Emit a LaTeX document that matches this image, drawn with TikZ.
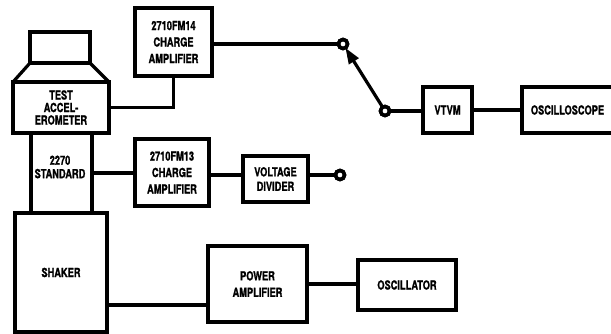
\documentclass[tikz,border=0pt]{standalone}
\usepackage{fontspec}
\setmainfont{TeX Gyre Heros}[FakeStretch=0.74,FakeBold=1.2]
\usetikzlibrary{arrows.meta}
\begin{document}
\begin{tikzpicture}[x=1pt,y=-1pt,
  txt/.style={font=\bfseries\fontsize{12.5}{16.5}\selectfont},
  box/.style={draw, line width=3.2pt, outer sep=0pt, inner sep=0pt, align=center, txt},
  wire/.style={line width=3.2pt},
  term/.style={circle, draw, fill=white, line width=3.6pt, minimum size=9pt, inner sep=0pt, outer sep=0pt},
  lbl/.style={align=center, inner sep=0pt, txt}]
\useasboundingbox (0,0) rectangle (611,334);
% accelerometer stack
\node[box, minimum width=60pt, minimum height=31pt] (cap) at (60,47.5) {};
\node[box, minimum width=96pt, minimum height=51pt, font=\bfseries\fontsize{12.5}{12.5}\selectfont] (accel) at (61,107.5) {TEST\\ACCEL-\\EROMETER};
\draw[wire, line join=round] (cap.south west) -- (accel.north west);
\draw[wire, line join=round] (cap.south east) -- (accel.north east);
\node[box, minimum width=61pt, minimum height=80pt] (std) at (61.5,173) {};
\node[lbl, font=\bfseries\fontsize{12.5}{13.5}\selectfont] (stdtext) at (60,167) {2270\\STANDARD};
\node[box, minimum width=92pt, minimum height=119pt] (shaker) at (61,272.5) {SHAKER};
% upper chain
\node[box, minimum width=77pt, minimum height=68pt] (ca14) at (173.5,42) {2710FM14\\CHARGE\\AMPLIFIER};
\node[term] (s1) at (343,44) {};
\node[term] (s2) at (385,111) {};
\node[box, minimum width=49pt, minimum height=46pt] (vtvm) at (447.5,110) {VTVM};
\node[box, minimum width=91pt, minimum height=46pt] (scope) at (567.5,110) {OSCILLOSCOPE};
% middle chain
\node[box, minimum width=74pt, minimum height=67pt] (ca13) at (172,172.5) {2710FM13\\CHARGE\\AMPLIFIER};
\node[box, minimum width=65pt, minimum height=46pt, font=\bfseries\fontsize{12.5}{14.5}\selectfont] (vdiv) at (275.5,179) {VOLTAGE\\DIVIDER};
\node[term] (vout) at (340,175) {};
% lower chain
\node[box, minimum width=99pt, minimum height=76pt] (pa) at (257.5,284) {POWER\\AMPLIFIER};
\node[box, minimum width=98pt, minimum height=50pt] (osc) at (407,285) {OSCILLATOR};
\coordinate (pain) at (208,305);
% connectors
\draw[wire] (accel.east) -| (ca14.south);
\draw[wire] (s1 -| ca14.east) -- (s1);
\draw[wire, -{Triangle[length=16pt,width=11pt]}] (s2) -- (s1);
\draw[wire] (s2) -- (s2 -| vtvm.west);
\draw[wire] (vtvm.east) -- (scope.west);
\draw[wire] (std.east) -- (std.east -| ca13.west);
\draw[wire] (vout -| ca13.east) -- (vout -| vdiv.west);
\draw[wire] (vdiv.east |- vout) -- (vout);
\draw[wire] (pain -| shaker.east) -- (pain);
\draw[wire] (pa.east) -- (pa.east -| osc.west);
% redraw terminals on top
\node[term] at (s1) {};
\node[term] at (s2) {};
\node[term] at (vout) {};
\end{tikzpicture}
\end{document}
